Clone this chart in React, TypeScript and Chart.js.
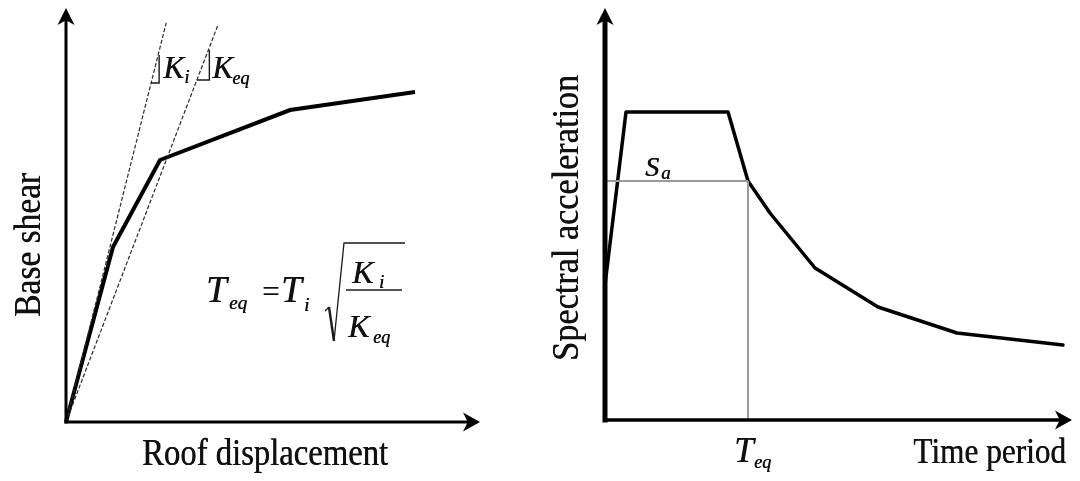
import React, { useEffect, useRef } from "react";
import { Chart, registerables } from "chart.js";
Chart.register(...registerables);

// ---- Left panel: pushover curve (normalised units 0..100) ----
const pushoverDisp = [0, 11.35, 22.71, 54.11, 84.3];
const pushoverShear = [0, 42.27, 63.29, 75.36, 79.71];
const kiLineDisp = [0, 24.2];
const kiLineShear = [0, 96.4];
const keqLineDisp = [0, 36.7];
const keqLineShear = [0, 95.9];

// ---- Right panel: design spectrum (normalised units 0..100) ----
const spectrumPeriod = [0, 4.5, 26.34, 30.62, 35.33, 44.97, 58.46, 75.37, 98.07];
const spectrumAccel = [32.8, 74.76, 74.76, 58.0, 50.24, 36.89, 27.43, 21.12, 18.2];
const teqValue = 30.62;
const saValue = 58.0;

const axisTitles = {
  leftX: "Roof displacement",
  leftY: "Base shear",
  rightX: "Time period",
  rightY: "Spectral acceleration",
};

const SERIF = '"Liberation Serif", "DejaVu Serif", serif';

function pts(xs: number[], ys: number[]) {
  return xs.map((x, i) => ({ x, y: ys[i] }));
}

function drawText(ctx: CanvasRenderingContext2D, s: string, x: number, y: number, size: number, opts: any = {}) {
  const { italic = false, align = "left", sx = 1, rot = 0 } = opts;
  ctx.save();
  ctx.translate(x, y);
  if (rot) ctx.rotate(rot);
  ctx.scale(sx, 1);
  ctx.font = `${italic ? "italic " : ""}${size}px ${SERIF}`;
  ctx.textAlign = align;
  ctx.textBaseline = "alphabetic";
  ctx.fillStyle = "#111";
  ctx.fillText(s, 0, 0);
  ctx.fillText(s, 0.5, 0);
  ctx.restore();
}

function drawArrow(ctx: CanvasRenderingContext2D, x0: number, y0: number, x1: number, y1: number, lw: number, headLen: number, halfW: number) {
  const dx = x1 - x0, dy = y1 - y0, L = Math.hypot(dx, dy);
  const ux = dx / L, uy = dy / L, nx = -uy, ny = ux;
  ctx.save();
  ctx.strokeStyle = "#000";
  ctx.fillStyle = "#000";
  ctx.lineWidth = lw;
  ctx.lineCap = "square";
  ctx.beginPath();
  ctx.moveTo(x0, y0);
  ctx.lineTo(x1 - ux * headLen * 0.6, y1 - uy * headLen * 0.6);
  ctx.stroke();
  ctx.beginPath();
  ctx.moveTo(x1, y1);
  ctx.lineTo(x1 - ux * headLen + nx * halfW, y1 - uy * headLen + ny * halfW);
  ctx.lineTo(x1 - ux * headLen * 0.72, y1 - uy * headLen * 0.72);
  ctx.lineTo(x1 - ux * headLen - nx * halfW, y1 - uy * headLen - ny * halfW);
  ctx.closePath();
  ctx.fill();
  ctx.restore();
}

function line(ctx: CanvasRenderingContext2D, p: number[][], lw: number, color = "#1a1a1a") {
  ctx.save();
  ctx.strokeStyle = color;
  ctx.lineWidth = lw;
  ctx.lineJoin = "miter";
  ctx.beginPath();
  p.forEach(([x, y], i) => (i ? ctx.lineTo(x, y) : ctx.moveTo(x, y)));
  ctx.stroke();
  ctx.restore();
}

const leftPlugin = {
  id: "leftDecor",
  afterDatasetsDraw(chart: any) {
    const ctx = chart.ctx as CanvasRenderingContext2D;
    const xs = chart.scales.x, ys = chart.scales.y;
    const ox = xs.getPixelForValue(0), oy = ys.getPixelForValue(0);
    drawArrow(ctx, ox, oy, ox, ys.getPixelForValue(100), 3, 17, 8.5);
    drawArrow(ctx, ox, oy, xs.getPixelForValue(100), oy, 3, 17, 9.5);

    // slope triangles on the stiffness lines
    const xOnLine = (lx: number[], ly: number[], py: number) => {
      const x0 = xs.getPixelForValue(lx[0]), y0 = ys.getPixelForValue(ly[0]);
      const x1 = xs.getPixelForValue(lx[1]), y1 = ys.getPixelForValue(ly[1]);
      return x0 + ((py - y0) * (x1 - x0)) / (y1 - y0);
    };
    const kiBottom = 83, kiTop = 55;
    const kiX = xOnLine(kiLineDisp, kiLineShear, kiTop) + 1;
    line(ctx, [[kiX, kiTop], [kiX, kiBottom], [xOnLine(kiLineDisp, kiLineShear, kiBottom), kiBottom]], 1.4);
    const keqBottom = 80, keqTop = 50;
    const keqX = xOnLine(keqLineDisp, keqLineShear, keqTop) + 1;
    line(ctx, [[keqX, keqTop], [keqX, keqBottom], [xOnLine(keqLineDisp, keqLineShear, keqBottom), keqBottom]], 1.4);

    drawText(ctx, "K", kiX + 4, 78, 31, { italic: true });
    drawText(ctx, "i", kiX + 25, 83, 18, { italic: true });
    drawText(ctx, "K", keqX + 3, 78, 31, { italic: true });
    drawText(ctx, "eq", keqX + 23, 84, 18, { italic: true });

    // formula T_eq = T_i sqrt(K_i / K_eq)
    drawText(ctx, "T", 206, 302, 37, { italic: true });
    drawText(ctx, "eq", 229, 309, 19, { italic: true });
    drawText(ctx, "=", 262, 302, 31);
    drawText(ctx, "T", 281, 302, 37, { italic: true });
    drawText(ctx, "i", 304, 311, 19, { italic: true });
    line(ctx, [[325, 311], [329, 307]], 1.3);
    line(ctx, [[329, 307], [334, 341]], 2.4);
    line(ctx, [[334, 341], [344, 243], [405, 243]], 1.3);
    line(ctx, [[346, 290], [402, 290]], 1.8, "#555");
    drawText(ctx, "K", 352, 283, 32, { italic: true });
    drawText(ctx, "i", 379, 288, 18, { italic: true });
    drawText(ctx, "K", 348, 337, 32, { italic: true });
    drawText(ctx, "eq", 373, 343, 18, { italic: true });

    drawText(ctx, axisTitles.leftY, 40, 245, 38, { align: "center", sx: 0.88, rot: -Math.PI / 2 });
    drawText(ctx, axisTitles.leftX, 265, 465, 38, { align: "center", sx: 0.86 });
  },
};

const rightPlugin = {
  id: "rightDecor",
  afterDatasetsDraw(chart: any) {
    const ctx = chart.ctx as CanvasRenderingContext2D;
    const xs = chart.scales.x, ys = chart.scales.y;
    const ox = xs.getPixelForValue(0), oy = ys.getPixelForValue(0);
    drawArrow(ctx, ox, oy, ox, ys.getPixelForValue(100), 5, 17, 8.5);
    drawArrow(ctx, ox, oy, xs.getPixelForValue(100), oy, 3.5, 17, 9.5);

    const sy = ys.getPixelForValue(saValue);
    drawText(ctx, "S", ox + 40, sy - 5, 28, { italic: true });
    drawText(ctx, "a", ox + 56, sy - 2, 19, { italic: true });
    const tx = xs.getPixelForValue(teqValue);
    drawText(ctx, "T", tx - 14, 462, 35, { italic: true });
    drawText(ctx, "eq", tx + 6, 468, 18, { italic: true });

    drawText(ctx, axisTitles.rightY, 38, 218, 38, { align: "center", sx: 0.9, rot: -Math.PI / 2 });
    drawText(ctx, axisTitles.rightX, 526, 463, 36, { align: "right", sx: 0.87 });
  },
};

function baseOptions(padding: any) {
  return {
    responsive: false,
    animation: false as const,
    layout: { padding },
    plugins: { legend: { display: false }, tooltip: { enabled: false } },
    elements: { point: { radius: 0, hoverRadius: 0 } },
    scales: {
      x: { type: "linear" as const, min: 0, max: 100, display: false },
      y: { type: "linear" as const, min: 0, max: 100, display: false },
    },
  };
}

function ChartCanvas({ make }: { make: (c: HTMLCanvasElement) => Chart }) {
  const ref = useRef<HTMLCanvasElement>(null);
  useEffect(() => {
    if (!ref.current) return;
    const ch = make(ref.current);
    return () => ch.destroy();
  }, []);
  return <canvas ref={ref} width={540} height={481} style={{ display: "block", width: 540, height: 481 }} />;
}

export default function App() {
  useEffect(() => {
    document.body.style.margin = "0";
    document.body.style.background = "#fff";
  }, []);

  const makeLeft = (c: HTMLCanvasElement) =>
    new Chart(c, {
      type: "scatter",
      data: {
        datasets: [
          { data: pts(kiLineDisp, kiLineShear), showLine: true, borderColor: "#2a2a2a", borderWidth: 1.2, borderDash: [4, 2], clip: false as any },
          { data: pts(keqLineDisp, keqLineShear), showLine: true, borderColor: "#2a2a2a", borderWidth: 1.2, borderDash: [4, 2], clip: false as any },
          { data: pts(pushoverDisp, pushoverShear), showLine: true, borderColor: "#000", borderWidth: 4, borderJoinStyle: "miter", clip: false as any },
        ],
      },
      options: baseOptions({ left: 66, right: 60, top: 8, bottom: 59 }) as any,
      plugins: [leftPlugin],
    });

  const makeRight = (c: HTMLCanvasElement) =>
    new Chart(c, {
      type: "scatter",
      data: {
        datasets: [
          { data: [{ x: 0, y: saValue }, { x: teqValue, y: saValue }], showLine: true, borderColor: "#9a9a9a", borderWidth: 2, clip: false as any },
          { data: [{ x: teqValue, y: 0 }, { x: teqValue, y: saValue }], showLine: true, borderColor: "#9a9a9a", borderWidth: 2, clip: false as any },
          { data: pts(spectrumPeriod, spectrumAccel), showLine: true, borderColor: "#000", borderWidth: 3.5, borderCapStyle: "round", borderJoinStyle: "round", clip: false as any },
        ],
      },
      options: baseOptions({ left: 65, right: 8, top: 8, bottom: 61 }) as any,
      plugins: [rightPlugin],
    });

  return (
    <div style={{ position: "relative", width: 1080, height: 481, background: "#fff", overflow: "hidden" }}>
      <div style={{ position: "absolute", left: 0, top: 0 }}>
        <ChartCanvas make={makeLeft} />
      </div>
      <div style={{ position: "absolute", left: 540, top: 0 }}>
        <ChartCanvas make={makeRight} />
      </div>
    </div>
  );
}
